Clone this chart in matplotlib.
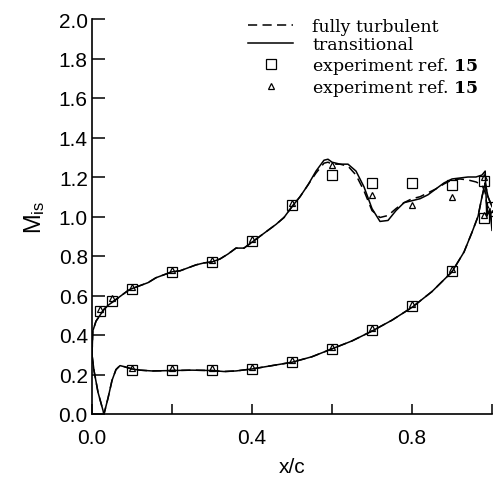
import matplotlib
matplotlib.use("Agg")
import matplotlib.pyplot as plt

# suction side, transitional computation
x_up = [0.0, 0.002, 0.01, 0.02, 0.03, 0.04, 0.05, 0.06, 0.07, 0.08, 0.09, 0.10,
        0.12, 0.14, 0.16, 0.18, 0.20, 0.22, 0.24, 0.26, 0.28, 0.30, 0.32, 0.34,
        0.36, 0.38, 0.40, 0.42, 0.44, 0.46, 0.48, 0.50, 0.52, 0.54, 0.56, 0.58,
        0.59, 0.60, 0.62, 0.64, 0.66, 0.68, 0.70, 0.72, 0.74, 0.76, 0.78, 0.80,
        0.82, 0.84, 0.86, 0.88, 0.90, 0.92, 0.94, 0.96, 0.975, 0.983, 0.987,
        0.995, 1.0]
m_up_trans = [0.30, 0.42, 0.47, 0.50, 0.53, 0.55, 0.565, 0.58, 0.595, 0.61, 0.625, 0.635,
              0.65, 0.665, 0.69, 0.705, 0.72, 0.725, 0.74, 0.755, 0.765, 0.77, 0.785, 0.81,
              0.84, 0.84, 0.87, 0.90, 0.93, 0.96, 0.995, 1.05, 1.10, 1.16, 1.23, 1.285,
              1.29, 1.275, 1.265, 1.265, 1.23, 1.15, 1.04, 0.975, 0.98, 1.03, 1.07, 1.08,
              1.09, 1.11, 1.14, 1.17, 1.19, 1.195, 1.20, 1.20, 1.21, 1.23, 1.00,
              1.04, 0.93]
# suction side, fully turbulent computation
m_up_turb = [0.30, 0.42, 0.47, 0.50, 0.53, 0.55, 0.565, 0.58, 0.595, 0.61, 0.625, 0.635,
             0.65, 0.665, 0.69, 0.705, 0.72, 0.725, 0.74, 0.755, 0.765, 0.77, 0.785, 0.81,
             0.84, 0.84, 0.87, 0.90, 0.93, 0.96, 0.995, 1.05, 1.10, 1.16, 1.22, 1.27,
             1.275, 1.265, 1.265, 1.255, 1.21, 1.13, 1.03, 0.995, 1.005, 1.04, 1.07, 1.09,
             1.10, 1.12, 1.14, 1.165, 1.185, 1.19, 1.185, 1.175, 1.16, 1.12, 1.06,
             1.03, 0.96]

# pressure side (both computations coincide)
x_lo = [0.0, 0.005, 0.015, 0.03, 0.04, 0.05, 0.06, 0.07, 0.08, 0.10, 0.12, 0.15,
        0.20, 0.25, 0.30, 0.33, 0.36, 0.40, 0.45, 0.50, 0.55, 0.60, 0.65, 0.70,
        0.75, 0.80, 0.85, 0.90, 0.93, 0.95, 0.965, 0.975, 0.983, 0.99, 1.0]
m_lo = [0.30, 0.22, 0.11, 0.0, 0.08, 0.17, 0.225, 0.245, 0.24, 0.228, 0.222, 0.218,
        0.22, 0.222, 0.22, 0.215, 0.218, 0.228, 0.245, 0.262, 0.29, 0.33, 0.37, 0.42,
        0.475, 0.54, 0.62, 0.72, 0.82, 0.92, 1.00, 1.10, 1.17, 1.10, 1.05]

# experiment ref. 15, squares
x_sq = [0.02, 0.05, 0.10, 0.20, 0.30, 0.40, 0.50, 0.60, 0.70, 0.80, 0.90, 0.98, 0.98, 1.0,
        0.10, 0.20, 0.30, 0.40, 0.50, 0.60, 0.70, 0.80, 0.90]
m_sq = [0.52, 0.57, 0.635, 0.72, 0.77, 0.875, 1.06, 1.21, 1.17, 1.17, 1.16, 1.18, 0.99, 1.05,
        0.225, 0.225, 0.225, 0.23, 0.262, 0.33, 0.423, 0.545, 0.725]
# experiment ref. 15, triangles
x_tri = [0.02, 0.05, 0.10, 0.20, 0.30, 0.40, 0.50, 0.60, 0.70, 0.80, 0.90, 0.98, 0.98, 1.0,
         0.10, 0.20, 0.30, 0.40, 0.50, 0.60, 0.70, 0.80, 0.90]
m_tri = [0.53, 0.585, 0.645, 0.73, 0.78, 0.885, 1.07, 1.26, 1.11, 1.06, 1.10, 1.20, 1.01, 1.02,
         0.235, 0.235, 0.235, 0.24, 0.272, 0.34, 0.433, 0.555, 0.735]

plt.rcParams['mathtext.fontset'] = 'dejavuserif'

fig = plt.figure(figsize=(4.96, 4.85), dpi=100)
ax = fig.add_axes([92 / 496, 1 - 415 / 485, 400 / 496, 395 / 485])

ax.plot(x_up, m_up_turb, 'k--', lw=1.1, dashes=(6, 3.5), label='fully turbulent')
ax.plot(x_up, m_up_trans, 'k-', lw=1.1, label='transitional')
ax.plot(x_lo, m_lo, 'k--', lw=1.1, dashes=(6, 3.5))
ax.plot(x_lo, m_lo, 'k-', lw=1.1)
ax.plot(x_sq, m_sq, 's', ms=7, mfc='none', mec='k', mew=0.9,
        label=r'experiment ref. $\mathbf{15}$')
ax.plot(x_tri, m_tri, '^', ms=5, mfc='none', mec='k', mew=0.9,
        label=r'experiment ref. $\mathbf{15}$')

ax.set_xlim(0, 1.0)
ax.set_ylim(0, 2.0)
ax.set_xticks([0.0, 0.2, 0.4, 0.6, 0.8, 1.0])
ax.set_xticklabels(['0.0', '', '0.4', '', '0.8', ''])
ax.set_yticks([0.0, 0.2, 0.4, 0.6, 0.8, 1.0, 1.2, 1.4, 1.6, 1.8, 2.0])
ax.set_yticklabels(['%.1f' % v for v in ax.get_yticks()])
ax.spines['top'].set_visible(False)
ax.spines['right'].set_visible(False)
ax.spines['left'].set_linewidth(1.2)
ax.spines['bottom'].set_linewidth(1.2)
ax.tick_params(axis='y', direction='in', length=9, width=1.1, labelsize=15, pad=3)
ax.tick_params(axis='x', direction='in', length=7, width=1.1, labelsize=15, pad=10)
for lab in ax.get_xticklabels() + ax.get_yticklabels():
    lab.set_fontfamily('Liberation Sans')

ax.set_xlabel('x/c', fontsize=15, family='Liberation Sans', labelpad=7)
ax.set_ylabel(r'M$_{\mathregular{is}}$', fontsize=17, family='Liberation Sans', labelpad=8)

ax.legend(loc='upper left', bbox_to_anchor=(248 / 496, 1 - 19 / 485),
          bbox_transform=fig.transFigure, frameon=False,
          prop={'family': 'DejaVu Serif', 'size': 12.5},
          handlelength=2.6, handletextpad=1.1, labelspacing=0.08,
          borderpad=0, borderaxespad=0)

fig.savefig('out.png', dpi=100)
